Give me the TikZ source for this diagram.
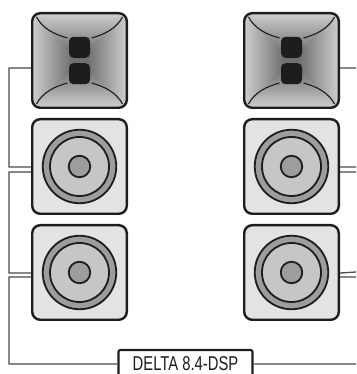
\documentclass[tikz,border=0pt]{standalone}
\usepackage{fontspec}
\setmainfont{Liberation Sans}[FakeStretch=0.74]
\usetikzlibrary{positioning}
\definecolor{ink}{HTML}{1D1D1B}
\definecolor{wirecol}{HTML}{4A4A49}
\definecolor{panel}{HTML}{E3E3E3}
\definecolor{ringcol}{HTML}{9D9D9C}
\definecolor{conecol}{HTML}{C6C6C6}
\definecolor{hornedge}{HTML}{D0D0D0}
\definecolor{horncore}{HTML}{707070}
\newcommand{\hornface}{
  \begin{scope}[shift={(path picture bounding box.center)}]
    \fill[horncore] (-50,-50) rectangle (50,50);
    \begin{scope}
      \clip (-50,50) -- (0,0) -- (-50,-50) -- cycle;
      \shade[left color=hornedge, right color=horncore] (-48,-50) rectangle (-8,50);
    \end{scope}
    \begin{scope}
      \clip (50,50) -- (0,0) -- (50,-50) -- cycle;
      \shade[left color=horncore, right color=hornedge] (8,-50) rectangle (48,50);
    \end{scope}
    \begin{scope}
      \clip (-50,50) -- (0,0) -- (50,50) -- cycle;
      \shade[top color=hornedge, bottom color=horncore] (-50,8) rectangle (50,48);
    \end{scope}
    \begin{scope}
      \clip (-50,-50) -- (0,0) -- (50,-50) -- cycle;
      \shade[top color=horncore, bottom color=hornedge] (-50,-48) rectangle (50,-8);
    \end{scope}
    \foreach \s in {1,-1} {
      \draw[ink, line width=1.1pt] (\s*43,43.5) .. controls (\s*37,32) and (\s*25,26) .. (\s*12,22.5);
      \draw[ink, line width=1.1pt] (\s*43,-43.5) .. controls (\s*37,-32) and (\s*25,-26) .. (\s*12,-22.5);
    }
  \end{scope}
}

\begin{document}
\begin{tikzpicture}[
    x = 1pt, y = 1pt,
    node distance = 9pt and 115pt,
    plate/.style = {rectangle, draw=ink, line width=2.4pt, rounded corners=8pt,
      minimum size=94.6pt, inner sep=0pt},
    hornbox/.style = {plate, path picture={\hornface}},
    cabinet/.style = {plate, fill=panel},
    ring/.style = {circle, draw=ink, fill=ringcol, line width=1.8pt, minimum size=73.5pt, inner sep=0pt},
    cone/.style = {circle, draw=ink, fill=conecol, line width=1.8pt, minimum size=59pt, inner sep=0pt},
    hub/.style = {circle, draw=ink, fill=ringcol, line width=1.8pt, minimum size=21.5pt, inner sep=0pt},
    driver/.style = {rectangle, fill=ink, rounded corners=4.5pt, minimum size=21pt, inner sep=0pt},
    amp/.style = {rectangle, draw=ink, fill=white, line width=2.1pt, rounded corners=2pt,
      minimum width=134pt, minimum height=28pt, inner sep=0pt, text=ink},
    wire/.style = {wirecol, line width=1.3pt}
    ]

  \useasboundingbox (0,0) rectangle (356,374);
  \clip (0,0) rectangle (356,374);

  \node[hornbox] (hornL) at (79.5,313.5) {} ;
  \node[cabinet] (wooferLa) [below=of hornL] {} ;
  \node[cabinet] (wooferLb) [below=of wooferLa] {} ;

  \node[hornbox] (hornR) [right=of hornL] {} ;
  \node[cabinet] (wooferRa) [below=of hornR] {} ;
  \node[cabinet] (wooferRb) [below=of wooferRa] {} ;

  \node[driver] (drvLa) at ([yshift=13.2pt]hornL.center) {} ;
  \node[driver] (drvLb) at ([yshift=-13.2pt]hornL.center) {} ;
  \node[driver] (drvRa) at ([yshift=13.2pt]hornR.center) {} ;
  \node[driver] (drvRb) at ([yshift=-13.2pt]hornR.center) {} ;

  \foreach \w in {wooferLa, wooferLb, wooferRa, wooferRb} {
    \node[ring] (\w-ring) at (\w) {} ;
    \node[cone] (\w-cone) at (\w) {} ;
    \node[hub] (\w-hub) at (\w) {} ;
  }

  \node[amp] (delta) at (185.5,10) {\fontsize{20}{22}\selectfont DELTA 8.4-DSP} ;

  \coordinate (endA) at (356,306);
  \coordinate (endB) at (356,207);
  \coordinate (endC) at (356,202);
  \coordinate (endD) at (356,102);
  \coordinate (endE) at (356,97);
  \coordinate (endF) at (356,10);

  \draw[wire]
  ([yshift=-7.5pt]hornL.west) -- ++(-22,0) |- ([yshift=-0.5pt]wooferLa.west)
  ([yshift=-5.5pt]wooferLa.west) -- ++(-22,0) |- ([yshift=-0.5pt]wooferLb.west)
  ([yshift=-4.5pt]wooferLb.west) -- ++(-22,0) |- (delta.west)

  ([yshift=-7.5pt]hornR.east) -- (endA)
  ([yshift=-0.5pt]wooferRa.east) -- (endB)
  ([yshift=-5.5pt]wooferRa.east) -- (endC)
  ([yshift=-0.5pt]wooferRb.east) -- (endD)
  ([yshift=-4.5pt]wooferRb.east) -- (endE)
  (delta.east) -- (endF) ;
\end{tikzpicture}
\end{document}
